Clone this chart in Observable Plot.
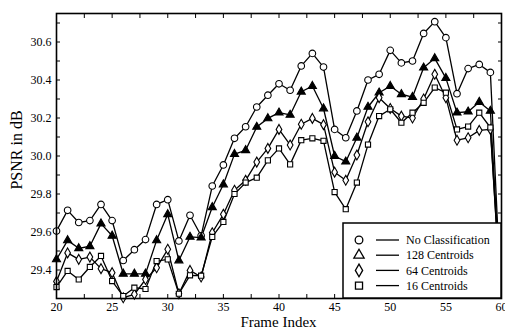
<!DOCTYPE html>
<html><head><meta charset="utf-8">
<script src="https://cdn.jsdelivr.net/npm/d3@7"></script>
<script src="https://cdn.jsdelivr.net/npm/@observablehq/plot@0.6"></script>
<style>
body{margin:0;background:#fff;}
#wrap{position:relative;width:505px;height:330px;overflow:hidden;font-family:"Liberation Serif","Times New Roman",serif;}
#wrap > svg{position:absolute;left:0;top:0;}
</style></head><body><div id="wrap"></div>
<script>
const frames = [20,21,22,23,24,25,26,27,28,29,30,31,32,33,34,35,36,37,38,39,40,41,42,43,44,45,46,47,48,49,50,51,52,53,54,55,56,57,58,59,60];
const noClass = [29.605,29.714,29.65,29.66,29.745,29.66,29.45,29.507,29.56,29.745,29.77,29.553,29.688,29.58,29.842,29.953,30.093,30.154,30.258,30.32,30.38,30.346,30.474,30.54,30.468,30.14,30.096,30.237,30.40,30.43,30.556,30.49,30.50,30.645,30.707,30.623,30.328,30.46,30.482,30.44,29.2];
const c128 = [29.456,29.556,29.514,29.525,29.644,29.58,29.38,29.38,29.38,29.556,29.693,29.45,29.574,29.57,29.73,29.85,30.01,30.03,30.153,30.198,30.228,30.216,30.338,30.368,30.25,30.0,29.97,30.096,30.258,30.333,30.368,30.325,30.31,30.465,30.514,30.41,30.228,30.233,30.284,30.237,29.2];
const c64 = [29.34,29.49,29.456,29.468,29.407,29.386,29.254,29.272,29.35,29.412,29.509,29.275,29.398,29.363,29.596,29.693,29.82,29.872,29.968,30.04,30.14,30.058,30.167,30.198,30.165,29.915,29.872,30.005,30.18,30.307,30.25,30.21,30.2,30.30,30.43,30.307,30.083,30.096,30.135,30.14,29.2];
const c16 = [29.31,29.395,29.35,29.416,29.474,29.342,29.263,29.307,29.30,29.447,29.456,29.275,29.372,29.37,29.574,29.653,29.8,29.86,29.886,29.977,30.04,29.956,30.083,30.093,30.08,29.81,29.72,29.86,30.06,30.21,30.246,30.175,30.228,30.28,30.36,30.333,30.14,30.155,30.228,30.15,29.2];
const seriesNames = ["No Classification","128 Centroids","64 Centroids","16 Centroids"];
const seriesSymbols = ["circle","triangle","diamond","square"];
const seriesFills = ["white","black","white","white"];
const xTickLabels = [20,25,30,35,40,45,50,55,60];
const xTickMarks = [20,22.5,25,27.5,30,32.5,35,37.5,40,42.5,45,47.5,50,52.5,55,57.5,60];
const yTickLabels = [29.4,29.6,29.8,30.0,30.2,30.4,30.6];
const yTickMarks = [29.3,29.4,29.5,29.6,29.7,29.8,29.9,30.0,30.1,30.2,30.3,30.4,30.5,30.6,30.7];
const xTitle = "Frame Index";
const yTitle = "PSNR in dB";

const allValues = [noClass,c128,c64,c16];
const data = allValues.flatMap((vals,k)=>frames.map((f,i)=>({frame:f, psnr:vals[i], series:seriesNames[k]})));

const W=505,H=330,mL=56,mR=4,mT=13,mB=32;
const blank = () => "";
const dotR = [3.3,3.0,3.0,2.9];
const marks = [
  Plot.axisX(xTickLabels,{anchor:"bottom",tickSize:0,tickPadding:3.5,label:null,fontSize:12}),
  Plot.axisX(xTickMarks,{anchor:"bottom",tickSize:-4,tickFormat:blank,label:null}),
  Plot.axisX(xTickMarks,{anchor:"top",tickSize:-4,tickFormat:blank,label:null}),
  Plot.axisY(yTickLabels,{anchor:"left",tickSize:0,tickPadding:5,label:null,fontSize:12,tickFormat:d=>d.toFixed(1)}),
  Plot.axisY(yTickMarks,{anchor:"left",tickSize:-4,tickFormat:blank,label:null}),
  Plot.axisY(yTickMarks,{anchor:"right",tickSize:-4,tickFormat:blank,label:null}),
  Plot.line(data,{x:"frame",y:"psnr",z:"series",stroke:"black",strokeWidth:1.3,clip:true}),
];
seriesNames.forEach((name,k)=>{
  marks.push(Plot.dot(data.filter(d=>d.series===name && d.frame<60),{x:"frame",y:"psnr",symbol:()=>seriesSymbols[k],fill:seriesFills[k],stroke:"black",strokeWidth:1.1,r:dotR[k]}));
});
marks.push(Plot.frame({stroke:"black",strokeWidth:1.6}));

const chart = Plot.plot({
  width:W,height:H,marginLeft:mL,marginRight:mR,marginTop:mT,marginBottom:mB,
  x:{domain:[20,60]},
  y:{domain:[29.25,30.75]},
  symbol:{domain:seriesSymbols,range:seriesSymbols},
  style:{fontFamily:"Liberation Serif, Times New Roman, serif",color:"black",background:"transparent",overflow:"visible"},
  marks
});
const wrap = document.getElementById("wrap");
wrap.appendChild(chart);

// overlay: axis titles and legend
const ov = d3.select(wrap).append("svg").attr("width",W).attr("height",H)
  .style("font-family","Liberation Serif, Times New Roman, serif");
ov.append("text").attr("x",(mL+W-mR)/2).attr("y",326.6).attr("text-anchor","middle")
  .attr("font-size",15).text(xTitle);
ov.append("text").attr("transform",`translate(22,${150}) rotate(-90)`).attr("text-anchor","middle")
  .attr("font-size",16).text(yTitle);

const lg = ov.append("g").attr("transform","translate(343,223)");
lg.append("rect").attr("width",158).attr("height",75).attr("fill","white").attr("stroke","black").attr("stroke-width",1.5);
const symMap = {circle:d3.symbolCircle,triangle:d3.symbolTriangle,diamond:d3.symbolDiamond,square:d3.symbolSquare};
seriesNames.forEach((name,k)=>{
  const cy = 17 + k*15.2;
  lg.append("path").attr("transform",`translate(16,${cy})`)
    .attr("d",d3.symbol(symMap[seriesSymbols[k]], k===3?50:46)())
    .attr("fill","white").attr("stroke","black").attr("stroke-width",1.3);
  lg.append("line").attr("x1",33).attr("x2",56).attr("y1",cy).attr("y2",cy).attr("stroke","black").attr("stroke-width",1.3);
  lg.append("text").attr("x",63).attr("y",cy).attr("dy","0.35em").attr("font-size",12).text(name);
});
</script></body></html>
